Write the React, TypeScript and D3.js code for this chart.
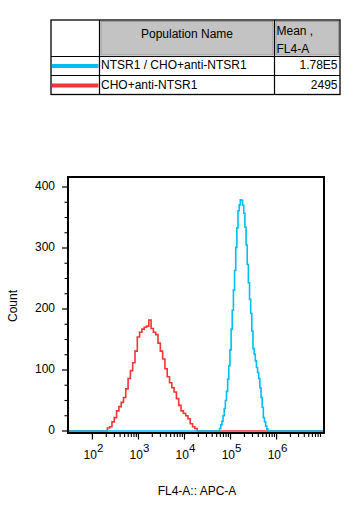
import React from "react";
import * as d3 from "d3";

// ---------- data ----------
const populations = ["NTSR1 / CHO+anti-NTSR1", "CHO+anti-NTSR1"];
const meanValues = ["1.78E5", "2495"];
const seriesColors = ["#00bdf2", "#f23535"];

// histogram bins (log10 of FL4-A) and counts
const redExp = [
  2.3, 2.35, 2.4, 2.45, 2.5, 2.55, 2.6, 2.65, 2.7, 2.75, 2.8, 2.85, 2.9, 2.95, 3.0,
  3.05, 3.1, 3.15, 3.2, 3.25, 3.3, 3.35, 3.4, 3.45, 3.5, 3.55, 3.6, 3.65, 3.7, 3.75,
  3.8, 3.85, 3.9, 3.95, 4.0, 4.05, 4.1, 4.15, 4.2, 4.25, 4.3,
];
const redCount = [
  0, 5, 7, 15, 22, 33, 40, 47, 55, 69, 86, 99, 112, 131, 154,
  162, 167, 170, 172, 182, 168, 162, 158, 144, 131, 118, 102, 89, 79, 71,
  64, 53, 42, 33, 29, 25, 20, 12, 7, 4, 0,
];
const blueExp = [
  4.75, 4.775, 4.8, 4.825, 4.85, 4.875, 4.9, 4.925, 4.95, 4.975, 5.0, 5.025, 5.05,
  5.075, 5.1, 5.125, 5.15, 5.175, 5.2, 5.225, 5.25, 5.275, 5.3, 5.325, 5.35, 5.375,
  5.4, 5.425, 5.45, 5.475, 5.5, 5.525, 5.55, 5.575, 5.6, 5.625, 5.65, 5.675, 5.7,
  5.725, 5.75, 5.775, 5.8, 5.825,
];
const blueCount = [
  0, 4, 10, 16, 25, 37, 50, 65, 85, 107, 133, 167, 198,
  231, 263, 301, 333, 361, 371, 379, 378, 370, 357, 334, 305, 273,
  243, 216, 193, 164, 135, 126, 115, 104, 96, 86, 71, 55, 39,
  22, 15, 8, 3, 0,
];

const xMajorExps = [2, 3, 4, 5, 6];
const yMajorTicks = [0, 100, 200, 300, 400];
const xTitle = "FL4-A:: APC-A";
const yTitle = "Count";
const colHeaders = ["Population Name", "Mean ,", "FL4-A"];

// ---------- layout ----------
const W = 356;
const H = 510;
const P = { left: 68, right: 324, top: 177, bottom: 433 };
const FONT = "'Liberation Sans', Arial, sans-serif";

export default function App() {
  const expMin = 1.47;
  const expMax = 7.03;
  const x = d3
    .scaleLog()
    .domain([Math.pow(10, expMin), Math.pow(10, expMax)])
    .range([P.left, P.right]);
  const y = d3.scaleLinear().domain([0, 400]).range([431, 187]);

  const line = d3
    .line<[number, number]>()
    .x((d) => x(Math.pow(10, d[0])))
    .y((d) => y(d[1]))
    .curve(d3.curveStep);

  const mkPts = (ex: number[], ct: number[]): [number, number][] => [
    [expMin, 0],
    ...ex.map((e, i) => [e, ct[i]] as [number, number]),
    [expMax, 0],
  ];

  // minor ticks
  const minorX: number[] = [];
  for (let dec = 2; dec <= 6; dec++) {
    for (let m = 2; m <= 9; m++) minorX.push(m * Math.pow(10, dec));
  }
  const minorY: number[] = [];
  for (let v = 25; v <= 400; v += 25) if (v % 100 !== 0) minorY.push(v);

  // table geometry
  const T = { l: 51, r: 340, t: 20, h1: 56.5, h2: 75.5, b: 94.5, c1: 99.5, c2: 274.5 };

  return (
    <svg
      width={W}
      height={H}
      style={{ position: "absolute", left: 0, top: 0, background: "#fff" }}
      fontFamily={FONT}
    >
      <rect x={0} y={0} width={W} height={H} fill="#fff" />

      {/* ---------- table ---------- */}
      <g>
        <rect x={T.c1 + 1.5} y={T.t + 1.5} width={T.c2 - T.c1 - 3} height={T.h1 - T.t - 3} fill="#c3c3c3" stroke="#9a9a9a" strokeWidth={1} />
        <rect x={T.c2 + 1.5} y={T.t + 1.5} width={T.r - T.c2 - 3} height={T.h1 - T.t - 3} fill="#c3c3c3" stroke="#9a9a9a" strokeWidth={1} />
        <rect x={T.l} y={T.t} width={T.r - T.l} height={T.b - T.t} fill="none" stroke="#000" strokeWidth={1.3} />
        <line x1={T.l} x2={T.r} y1={T.h1} y2={T.h1} stroke="#000" strokeWidth={1.2} />
        <line x1={T.l} x2={T.r} y1={T.h2} y2={T.h2} stroke="#000" strokeWidth={1.2} />
        <line x1={T.c1} x2={T.c1} y1={T.t} y2={T.b} stroke="#000" strokeWidth={1.2} />
        <line x1={T.c2} x2={T.c2} y1={T.t} y2={T.b} stroke="#000" strokeWidth={1.2} />
        <text x={(T.c1 + T.c2) / 2} y={35} fontSize={12} textAnchor="middle" dominantBaseline="middle" fill="#000">
          {colHeaders[0]}
        </text>
        <text x={T.c2 + 2} y={32} fontSize={12} dominantBaseline="middle" fill="#000">
          {colHeaders[1]}
        </text>
        <text x={T.c2 + 2} y={49.5} fontSize={12} dominantBaseline="middle" fill="#000">
          {colHeaders[2]}
        </text>
        {populations.map((p, i) => {
          const cy = i === 0 ? 66 : 85.5;
          return (
            <g key={p}>
              <line x1={T.l + 1} x2={T.c1 - 1} y1={cy} y2={cy} stroke={seriesColors[i]} strokeWidth={4} />
              <text x={T.c1 + 1.5} y={cy} fontSize={12} dominantBaseline="middle" fill="#000">
                {p}
              </text>
              <text x={T.r - 2.5} y={cy} fontSize={12} textAnchor="end" dominantBaseline="middle" fill="#000">
                {meanValues[i]}
              </text>
            </g>
          );
        })}
      </g>

      {/* ---------- plot ---------- */}
      <defs>
        <clipPath id="plotclip">
          <rect x={P.left} y={P.top} width={P.right - P.left} height={P.bottom - P.top} />
        </clipPath>
      </defs>
      <g clipPath="url(#plotclip)" fill="none" strokeLinejoin="miter">
        <path d={line(mkPts(redExp, redCount)) || ""} stroke={seriesColors[1]} strokeWidth={1.6} />
        <path d={line(mkPts(blueExp, blueCount)) || ""} stroke={seriesColors[0]} strokeWidth={1.6} />
      </g>
      <rect
        x={P.left}
        y={P.top}
        width={P.right - P.left}
        height={P.bottom - P.top}
        fill="none"
        stroke="#000"
        strokeWidth={2}
      />

      {/* y axis */}
      {yMajorTicks.map((v) => (
        <g key={"ym" + v}>
          <line x1={P.left - 6} x2={P.left} y1={y(v)} y2={y(v)} stroke="#000" strokeWidth={1.2} />
          <text x={55} y={y(v)} fontSize={12} textAnchor="end" dominantBaseline="middle" fill="#000">
            {v}
          </text>
        </g>
      ))}
      {minorY.map((v) => (
        <line key={"yn" + v} x1={P.left - 3.5} x2={P.left} y1={y(v)} y2={y(v)} stroke="#000" strokeWidth={1.1} />
      ))}
      <text
        transform={`translate(17,306) rotate(-90)`}
        fontSize={12}
        textAnchor="middle"
        fill="#000"
      >
        {yTitle}
      </text>

      {/* x axis */}
      {minorX.map((v) => (
        <line key={"xn" + v} x1={x(v)} x2={x(v)} y1={P.bottom} y2={P.bottom + 4} stroke="#000" strokeWidth={1.1} />
      ))}
      {xMajorExps.map((e) => {
        const px = x(Math.pow(10, e));
        return (
          <g key={"xm" + e}>
            <line x1={px} x2={px} y1={P.bottom} y2={P.bottom + 6.5} stroke="#000" strokeWidth={1.2} />
            <text x={px + 1} y={459} fontSize={12} textAnchor="middle" fill="#000">
              <tspan>10</tspan>
              <tspan dy={-7} fontSize={11.5}>{e}</tspan>
            </text>
          </g>
        );
      })}
      <text x={197} y={495} fontSize={12} textAnchor="middle" fill="#000">
        {xTitle}
      </text>
    </svg>
  );
}
